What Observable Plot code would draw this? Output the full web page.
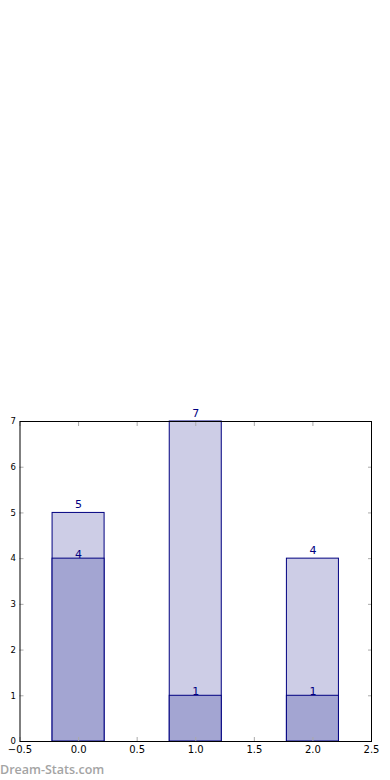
<!DOCTYPE html>
<html>
<head>
<meta charset="utf-8">
<script src="https://cdn.jsdelivr.net/npm/d3@7"></script>
<script src="https://cdn.jsdelivr.net/npm/@observablehq/plot@0.6"></script>
<style>
  html, body { margin: 0; padding: 0; background: #fff; }
  #wrap { position: relative; width: 390px; height: 780px; }
  #wm { position: absolute; left: 0px; top: 761px; font: 600 12.5px "Open Sans", sans-serif; color: #a4a4a4; letter-spacing: 0px; }
</style>
</head>
<body>
<div id="wrap"><div id="chart"></div><div id="wm">Dream-Stats.com</div></div>
<script>
const categories = [0, 1, 2];
const totals = [5, 7, 4];
const counts = [4, 1, 1];
const xTicks = [-0.5, 0, 0.5, 1, 1.5, 2, 2.5];
const yTicks = [0, 1, 2, 3, 4, 5, 6, 7];
const barHalfWidth = 0.222;

const totalRows = categories.map((c, i) => ({x: c, v: totals[i]}));
const countRows = categories.map((c, i) => ({x: c, v: counts[i]}));

const navy = "#000080";
const chart = Plot.plot({
  width: 390,
  height: 780,
  marginLeft: 19.5,
  marginRight: 19,
  marginTop: 421,
  marginBottom: 39,
  style: {fontFamily: "DejaVu Sans, sans-serif", background: "#fff"},
  x: {domain: [-0.5, 2.5], label: null},
  y: {domain: [0, 7], label: null},
  marks: [
    Plot.rectY(totalRows, {x1: d => d.x - barHalfWidth, x2: d => d.x + barHalfWidth, y1: 0, y2: "v", fill: "#cdcde6", stroke: navy, strokeWidth: 1}),
    Plot.rectY(countRows, {x1: d => d.x - barHalfWidth, x2: d => d.x + barHalfWidth, y1: 0, y2: "v", fill: "#a3a5d2", stroke: navy, strokeWidth: 1}),
    Plot.text(totalRows, {x: "x", y: "v", text: d => String(d.v), lineAnchor: "bottom", dy: -5, fill: navy, fontSize: 11}),
    Plot.text(countRows, {x: "x", y: "v", text: d => String(d.v), lineAnchor: "bottom", dy: -1, fill: navy, fontSize: 11}),
    Plot.axisX({anchor: "bottom", ticks: xTicks, tickFormat: d3.format(".1f"), tickSize: 0, tickPadding: 4, fontSize: 10, fill: "#000", label: null}),
    Plot.axisY({anchor: "left", ticks: yTicks, tickFormat: d3.format("d"), tickSize: 0, tickPadding: 4, fontSize: 8.5, fill: "#000", label: null}),
    Plot.axisX({anchor: "bottom", ticks: xTicks, text: null, tickSize: -4, stroke: "#aaa", label: null}),
    Plot.axisX({anchor: "top", ticks: xTicks, text: null, tickSize: -4, stroke: "#aaa", label: null}),
    Plot.axisY({anchor: "left", ticks: yTicks, text: null, tickSize: -4, stroke: "#aaa", label: null}),
    Plot.axisY({anchor: "right", ticks: yTicks, text: null, tickSize: -4, stroke: "#aaa", label: null}),
    Plot.frame({stroke: "#000", strokeWidth: 1})
  ]
});
document.getElementById("chart").appendChild(chart);
</script>
</body>
</html>
